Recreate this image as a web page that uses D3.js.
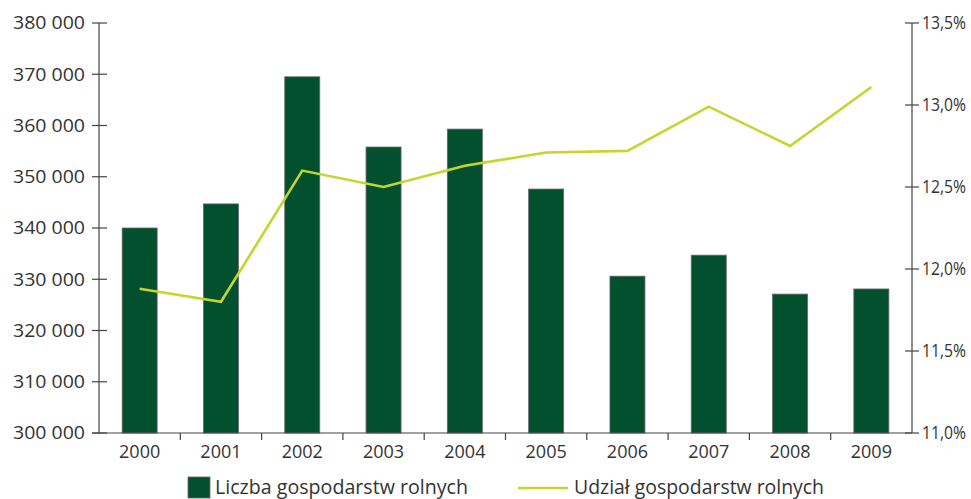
<!DOCTYPE html>
<html><head><meta charset="utf-8">
<script src="https://cdn.jsdelivr.net/npm/d3@7"></script>
<style>body{margin:0;background:#fff}svg{display:block}text{font-family:"Open Sans",Lato,sans-serif;fill:#333}</style>
</head><body><svg id="c" width="971" height="499"></svg>
<script>
const years = ["2000","2001","2002","2003","2004","2005","2006","2007","2008","2009"];
const farms = [340000,344700,369500,355800,359300,347600,330600,334700,327100,328100];
const share = [11.88,11.80,12.60,12.50,12.63,12.71,12.72,12.99,12.75,13.11];
const leftTicks = [300000,310000,320000,330000,340000,350000,360000,370000,380000];
const rightTicks = [11.0,11.5,12.0,12.5,13.0,13.5];
const legendLabels = ["Liczba gospodarstw rolnych","Udział gospodarstw rolnych"];

const svg = d3.select("#c");
const L=99, R=912, T=23, B=433;
const xb = d3.scaleBand().domain(years).range([L,R]);
const yL = d3.scaleLinear().domain([300000,380000]).range([B,T]);
const yR = d3.scaleLinear().domain([11,13.5]).range([B,T]);
const fmt = v => d3.format(",")(v).replace(/,/g," ");
const green="#02502d", lime="#c3d62e", axisc="#444";

svg.selectAll("rect.bar").data(years).join("rect").attr("class","bar")
  .attr("x",d=>xb(d)+xb.bandwidth()/2-17.5).attr("width",35)
  .attr("y",(d,i)=>yL(farms[i])).attr("height",(d,i)=>B-yL(farms[i]))
  .attr("fill",green).attr("stroke","#666").attr("stroke-width",0.8);

svg.append("path").datum(share)
  .attr("d",d3.line().x((d,i)=>xb(years[i])+xb.bandwidth()/2).y(d=>yR(d)))
  .attr("fill","none").attr("stroke",lime).attr("stroke-width",2.6).attr("stroke-linejoin","miter");

// left axis
const gl = svg.append("g");
gl.append("line").attr("x1",L).attr("x2",L).attr("y1",T).attr("y2",B).attr("stroke",axisc).attr("stroke-width",1.2);
gl.selectAll("line.t").data(leftTicks).join("line").attr("class","t")
  .attr("x1",L-7).attr("x2",L+8).attr("y1",d=>yL(d)).attr("y2",d=>yL(d)).attr("stroke",axisc).attr("stroke-width",1.2);
gl.selectAll("text").data(leftTicks).join("text")
  .attr("x",85).attr("y",d=>yL(d)).attr("dy","0.35em").attr("text-anchor","end")
  .attr("font-size",18).attr("textLength",72).attr("lengthAdjust","spacingAndGlyphs").text(fmt);

// right axis
const gr = svg.append("g");
gr.append("line").attr("x1",R).attr("x2",R).attr("y1",T).attr("y2",B).attr("stroke",axisc).attr("stroke-width",1.2);
gr.selectAll("line.t").data(rightTicks).join("line").attr("class","t")
  .attr("x1",R-7).attr("x2",R+7).attr("y1",d=>yR(d)).attr("y2",d=>yR(d)).attr("stroke",axisc).attr("stroke-width",1.2);
gr.selectAll("text").data(rightTicks).join("text")
  .attr("x",R+10).attr("y",d=>yR(d)).attr("dy","0.35em")
  .attr("font-size",18).attr("textLength",44).attr("lengthAdjust","spacingAndGlyphs")
  .text(d=>d.toFixed(1).replace(".",",")+"%");

// bottom axis
const gb = svg.append("g");
gb.append("line").attr("x1",L-7).attr("x2",R).attr("y1",B).attr("y2",B).attr("stroke",axisc).attr("stroke-width",1.2);
const bt = years.slice(1).map(d=>xb(d));
gb.selectAll("line.t").data(bt).join("line").attr("class","t")
  .attr("x1",d=>d).attr("x2",d=>d).attr("y1",B).attr("y2",B+7).attr("stroke",axisc).attr("stroke-width",1.2);
gb.selectAll("text").data(years).join("text")
  .attr("x",d=>xb(d)+xb.bandwidth()/2).attr("y",452).attr("dy","0.35em").attr("text-anchor","middle")
  .attr("font-size",18).text(d=>d);

// legend
const lg = svg.append("g");
lg.append("rect").attr("x",188).attr("y",477).attr("width",22).attr("height",21).attr("fill",green).attr("stroke","#666").attr("stroke-width",0.8);
lg.append("text").attr("x",215).attr("y",487).attr("dy","0.35em").attr("font-size",19.5)
  .attr("textLength",253).attr("lengthAdjust","spacingAndGlyphs").text(legendLabels[0]);
lg.append("line").attr("x1",518).attr("x2",568).attr("y1",488).attr("y2",488).attr("stroke",lime).attr("stroke-width",2.6);
lg.append("text").attr("x",574).attr("y",487).attr("dy","0.35em").attr("font-size",19.5)
  .attr("textLength",250).attr("lengthAdjust","spacingAndGlyphs").text(legendLabels[1]);
</script></body></html>
